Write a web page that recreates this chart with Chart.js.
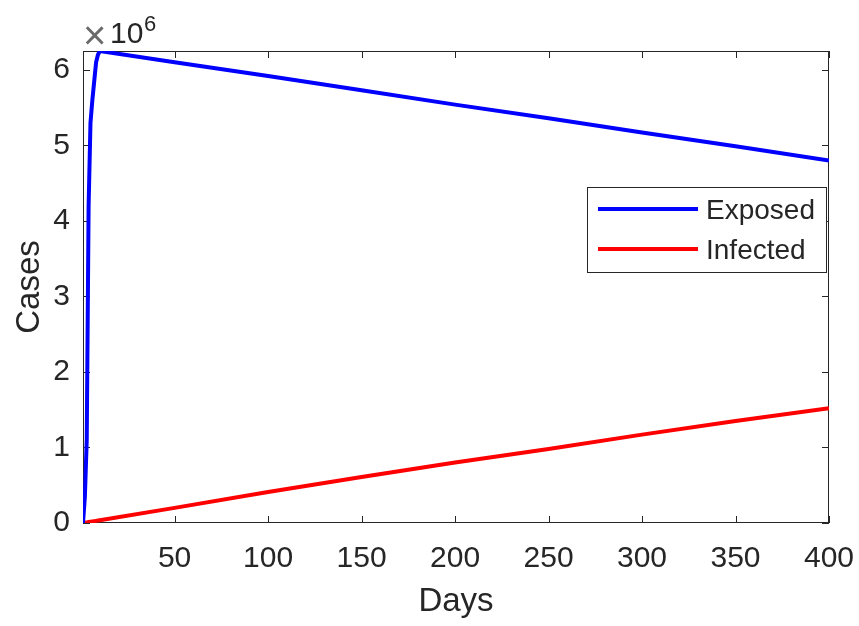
<!DOCTYPE html>
<html>
<head>
<meta charset="utf-8">
<script src="https://cdn.jsdelivr.net/npm/chart.js@4.4.0/dist/chart.umd.min.js"></script>
<style>
  html, body { margin: 0; padding: 0; background: #ffffff; }
  #wrap { width: 859px; height: 626px; }
</style>
</head>
<body>
<div id="wrap"><canvas id="chartCasos" width="859" height="626"></canvas></div>
<script>
// datos (casos en millones)
const days = [1, 2, 3, 4, 5, 6, 7, 8, 9, 10, 50, 100, 150, 200, 250, 300, 350, 400];
const exposed = [0, 0.35, 1.1, 4.2, 5.3, 5.6, 5.85, 6.1, 6.2, 6.25, 6.1, 5.92, 5.73, 5.54, 5.36, 5.17, 4.99, 4.8];
const infected = [0, 0.004, 0.008, 0.012, 0.016, 0.02, 0.024, 0.028, 0.032, 0.036, 0.2, 0.41, 0.61, 0.8, 0.98, 1.17, 1.35, 1.52];
const xTicks = [50, 100, 150, 200, 250, 300, 350, 400];
const yTicks = [0, 1, 2, 3, 4, 5, 6];
const seriesNames = ["Exposed", "Infected"];

document.addEventListener("DOMContentLoaded", () => {

    const colores = {
        eje: "#262626",
        azul: "#0000ff",
        rojo: "#ff0000"
    };

    const fuente = "'Liberation Sans', Arial, Helvetica, sans-serif";

    function puntos(valores) {
        return days.map((d, i) => ({ x: d, y: valores[i] * 1e6 }));
    }

    // caja, ticks hacia adentro, leyenda y exponente estilo MATLAB
    const estiloMatlab = {
        id: "estiloMatlab",
        beforeDatasetsDraw(chart) {
            const { ctx, chartArea: a, scales } = chart;
            ctx.save();
            ctx.strokeStyle = colores.eje;
            ctx.lineWidth = 1;
            ctx.strokeRect(a.left + 0.5, a.top + 0.5, a.right - a.left - 1, a.bottom - a.top - 1);
            const tl = 7;
            ctx.beginPath();
            xTicks.forEach(v => {
                const px = Math.round(scales.x.getPixelForValue(v)) + 0.5;
                ctx.moveTo(px, a.bottom); ctx.lineTo(px, a.bottom - tl);
                ctx.moveTo(px, a.top); ctx.lineTo(px, a.top + tl);
            });
            yTicks.forEach(v => {
                const py = Math.round(scales.y.getPixelForValue(v * 1e6)) + 0.5;
                ctx.moveTo(a.left, py); ctx.lineTo(a.left + tl, py);
                ctx.moveTo(a.right, py); ctx.lineTo(a.right - tl, py);
            });
            ctx.stroke();
            ctx.restore();
        },
        afterDraw(chart) {
            const { ctx } = chart;
            ctx.save();
            // exponente
            ctx.textBaseline = "alphabetic";
            ctx.textAlign = "left";
            ctx.fillStyle = "#6a6a6a";
            ctx.font = "40px " + fuente;
            ctx.fillText("\u00d7", 83, 49);
            ctx.fillStyle = colores.eje;
            ctx.font = "30px " + fuente;
            ctx.fillText("10", 110, 43);
            ctx.font = "22px " + fuente;
            ctx.fillText("6", 144, 31);

            // leyenda
            const lx = 587.5, ly = 187.5, lw = 239, lh = 85;
            ctx.fillStyle = "#ffffff";
            ctx.fillRect(lx, ly, lw, lh);
            ctx.strokeStyle = colores.eje;
            ctx.lineWidth = 1;
            ctx.strokeRect(lx, ly, lw, lh);
            const filas = [209, 249];
            const cols = [colores.azul, colores.rojo];
            ctx.font = "28px " + fuente;
            ctx.textBaseline = "middle";
            seriesNames.forEach((n, i) => {
                ctx.strokeStyle = cols[i];
                ctx.lineWidth = 4;
                ctx.beginPath();
                ctx.moveTo(598, filas[i]);
                ctx.lineTo(698, filas[i]);
                ctx.stroke();
                ctx.fillStyle = colores.eje;
                ctx.fillText(n, 706, filas[i] + 2);
            });
            ctx.restore();
        }
    };

    new Chart(document.getElementById("chartCasos"), {
        type: "line",
        data: {
            datasets: [
                {
                    label: seriesNames[0],
                    data: puntos(exposed),
                    borderColor: colores.azul,
                    backgroundColor: colores.azul,
                    borderWidth: 4,
                    pointRadius: 0,
                    tension: 0,
                    fill: false
                },
                {
                    label: seriesNames[1],
                    data: puntos(infected),
                    borderColor: colores.rojo,
                    backgroundColor: colores.rojo,
                    borderWidth: 4,
                    pointRadius: 0,
                    tension: 0,
                    fill: false
                }
            ]
        },
        options: {
            responsive: false,
            animation: false,
            layout: { padding: { top: 51, right: 30, left: 0, bottom: 0 } },
            plugins: {
                legend: { display: false },
                tooltip: { enabled: false }
            },
            scales: {
                x: {
                    type: "linear",
                    min: 1,
                    max: 400,
                    grid: { display: false, drawTicks: false },
                    border: { display: false },
                    afterBuildTicks: s => { s.ticks = xTicks.map(v => ({ value: v })); },
                    afterFit: s => {
                        s.height = 103;
                        s.paddingLeft = 0;
                        s.paddingRight = 0;
                    },
                    ticks: {
                        color: colores.eje,
                        font: { family: fuente, size: 30 },
                        padding: 18,
                        maxRotation: 0,
                        autoSkip: false
                    },
                    title: {
                        display: true,
                        text: "Days",
                        color: colores.eje,
                        font: { family: fuente, size: 33, lineHeight: 1.2 },
                        padding: { top: 0, bottom: 4 }
                    }
                },
                y: {
                    type: "linear",
                    min: 0,
                    max: 6.25e6,
                    grid: { display: false, drawTicks: false },
                    border: { display: false },
                    afterBuildTicks: s => { s.ticks = yTicks.map(v => ({ value: v * 1e6 })); },
                    afterFit: s => {
                        s.width = 83;
                        s.paddingTop = 0;
                        s.paddingBottom = 0;
                    },
                    ticks: {
                        color: colores.eje,
                        font: { family: fuente, size: 30 },
                        padding: 13,
                        autoSkip: false,
                        callback: v => String(Math.round(v / 1e6))
                    },
                    title: {
                        display: true,
                        text: "Cases",
                        color: colores.eje,
                        font: { family: fuente, size: 33, lineHeight: 1.2 },
                        padding: { top: 10, bottom: 0 }
                    }
                }
            }
        },
        plugins: [estiloMatlab]
    });

});
</script>
</body>
</html>
